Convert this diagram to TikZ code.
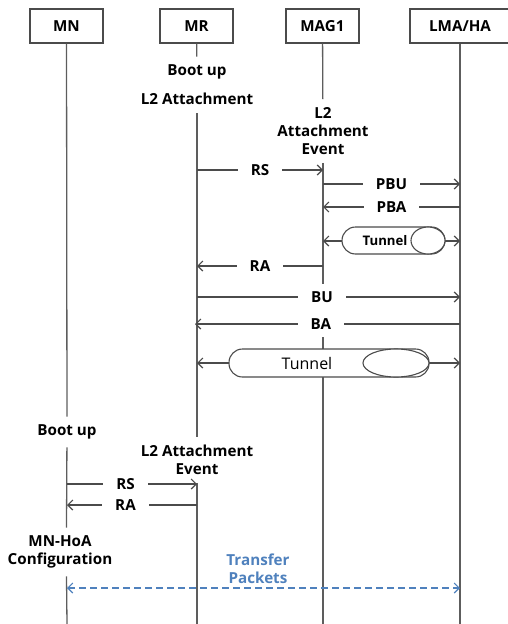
\documentclass[tikz,border=0pt]{standalone}
\usepackage{fontspec}
\setmainfont{Open Sans}
\usepackage{tikz}
\usetikzlibrary{arrows.meta, positioning, shapes.geometric}
\definecolor{pktblue}{RGB}{79,129,189}
\definecolor{lineGray}{RGB}{75,75,75}

\begin{document}
\begin{tikzpicture}[
    x=1pt, y=-1pt,
    every node/.style={font=\fontsize{15.2}{18}\selectfont\bfseries},
    entity/.style={rectangle, draw=lineGray, line width=1.1pt, fill=white, minimum width=73pt, minimum height=34pt, inner sep=0pt},
    event/.style={align=center, inner xsep=2pt, inner ysep=8pt},
    life/.style={line width=1.3pt, draw=lineGray!90},
    msg/.style={-{Straight Barb[length=5pt,width=10pt]}, line width=1.2pt, draw=lineGray},
    msgBoth/.style={{Straight Barb[length=5pt,width=10pt]}-{Straight Barb[length=5pt,width=10pt]}, line width=1.2pt, draw=lineGray},
    lbl/.style={fill=white, inner xsep=13pt, inner ysep=8pt},
    tube/.style={rectangle, rounded corners=13.5pt, draw=lineGray, line width=1.1pt, fill=white, inner sep=0pt},
    tubeEnd/.style={ellipse, draw=lineGray, line width=1.1pt, fill=white, inner sep=0pt},
    tubeText/.style={inner sep=0pt, font=\fontsize{13.2}{16}\selectfont\bfseries},
    packets/.style={{Straight Barb[length=5pt,width=10pt]}-{Straight Barb[length=5pt,width=10pt]}, dash pattern=on 7pt off 4pt, line width=1.1pt, draw=pktblue}
]
\clip (0,0) rectangle (508,624);

% ============== Entidades ==============
\node[entity] (mn)  at (66.5,26)  {MN};
\node[entity] (mr)  at (196.5,26) {MR};
\node[entity] (mag) at (322.5,26) {MAG1};
\node[entity, minimum width=100pt] (lma) at (460,26) {LMA/HA};

% ============== Eventos sobre las lineas ==============
\node[event] (bootMR) at (197,72)  {Boot up};
\node[event] (l2MR)   at (197,99)  {L2 Attachment};
\node[event] (l2MAG)  at (323,131) {L2\\Attachment\\Event};
\node[event] (bootMN) at (67,432)  {Boot up};
\node[event] (l2evMR) at (197,460) {L2 Attachment\\Event};
\node[event] (hoaMN)  at (60,552)  {MN-HoA\\Configuration};

\coordinate (mnEnd)  at (67,624);
\coordinate (mrEnd)  at (197,624);
\coordinate (magEnd) at (323,624);
\coordinate (lmaEnd) at (460,624);

% ============== Lineas de vida ==============
\draw[life] (mn) -- (bootMN);
\draw[life] (bootMN) -- (mn.south |- hoaMN.north);
\draw[life] (mn.south |- hoaMN.south) -- (mnEnd);
\draw[life] (mr) -- (bootMR);
\draw[life] (l2MR) -- (l2evMR);
\draw[life] (l2evMR) -- (mrEnd);
\draw[life] (mag) -- (l2MAG);
\draw[life] (l2MAG) -- (magEnd);
\draw[life] (lma) -- (lmaEnd);

% ============== Puntos de los mensajes ==============
\coordinate (rsA)  at (197,170);  \coordinate (rsB)  at (323,170);
\coordinate (pbuA) at (323,184);  \coordinate (pbuB) at (460,184);
\coordinate (pbaA) at (460,207);  \coordinate (pbaB) at (323,207);
\coordinate (tunA) at (323,241);  \coordinate (tunB) at (460,241);
\coordinate (raA)  at (323,266);  \coordinate (raB)  at (197,266);
\coordinate (buA)  at (197,297);  \coordinate (buB)  at (460,297);
\coordinate (baA)  at (460,324);  \coordinate (baB)  at (195,324);
\coordinate (ttA)  at (197,363);  \coordinate (ttB)  at (460,363);
\coordinate (rs2A) at (67,484);   \coordinate (rs2B) at (197,484);
\coordinate (ra2A) at (197,505);  \coordinate (ra2B) at (67,505);
\coordinate (tpA)  at (67,588);   \coordinate (tpB)  at (460,588);

% ============== Mensajes MR / MAG1 / LMA ==============
\draw[msg] (rsA)  -- node[lbl]{RS}  (rsB);
\draw[msg] (pbuA) -- node[lbl, inner ysep=6pt]{PBU} (pbuB);
\draw[msg] (pbaA) -- node[lbl, inner ysep=6pt]{PBA} (pbaB);
\draw[msg] (raA)  -- node[lbl]{RA}  (raB);
\draw[msg] (buA)  -- node[lbl, pos=0.475]{BU} (buB);
\draw[msg] (baA)  -- node[lbl, pos=0.525]{BA} (baB);

% ============== Tuneles ==============
\draw[msgBoth] (tunA) -- (tunB);
\node[tube, minimum width=103pt, minimum height=27pt] (tun1) at (393.5,240.5) {};
\node[tubeEnd, minimum width=34pt, minimum height=27pt, anchor=east] (tun1End) at (tun1.east) {};
\node[tubeText] (tun1Txt) at (385,240.5) {Tunnel};

\draw[msgBoth] (ttA) -- (ttB);
\node[tube, minimum width=200pt, minimum height=28pt] (tun2) at (329,363) {};
\node[tubeEnd, minimum width=66pt, minimum height=28pt, anchor=east] (tun2End) at (tun2.east) {};
\node[tubeText, font=\fontsize{16}{18}\selectfont] (tun2Txt) at (307,363) {Tunnel};

% ============== MN / MR ==============
\draw[msg] (rs2A) -- node[lbl, pos=0.45]{RS} (rs2B);
\draw[msg] (ra2A) -- node[lbl, pos=0.55, inner ysep=6pt]{RA} (ra2B);

% ============== Transferencia ==============
\draw[packets] (tpA) -- (tpB);
\node[align=center, text=pktblue] (xfer) at (258,569) {Transfer\\Packets};
\end{tikzpicture}
\end{document}
